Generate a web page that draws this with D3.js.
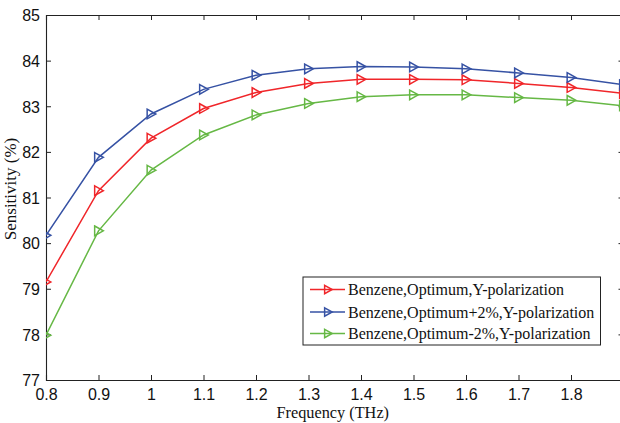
<!DOCTYPE html>
<html><head><meta charset="utf-8">
<script src="https://cdn.jsdelivr.net/npm/d3@7"></script>
<style>body{margin:0;background:#fff}svg{display:block}</style>
</head><body>
<svg id="c" width="620" height="423"></svg>
<script>
const freq = [0.8, 0.9, 1.0, 1.1, 1.2, 1.3, 1.4, 1.5, 1.6, 1.7, 1.8, 1.9];
const optimum = [79.15, 81.15, 82.30, 82.95, 83.30, 83.50, 83.59, 83.59, 83.58, 83.50, 83.41, 83.28];
const optimumPlus2 = [80.17, 81.88, 82.83, 83.37, 83.68, 83.82, 83.87, 83.86, 83.82, 83.73, 83.63, 83.47];
const optimumMinus2 = [77.98, 80.27, 81.60, 82.37, 82.81, 83.06, 83.21, 83.25, 83.25, 83.19, 83.13, 83.01];
const seriesNames = ["Benzene,Optimum,Y-polarization", "Benzene,Optimum+2%,Y-polarization", "Benzene,Optimum-2%,Y-polarization"];
const xTicks = [0.8, 0.9, 1.0, 1.1, 1.2, 1.3, 1.4, 1.5, 1.6, 1.7, 1.8];
const yTicks = [77, 78, 79, 80, 81, 82, 83, 84, 85];

const colors = ["#f0262a", "#3652a4", "#66b845"];
const series = [optimum, optimumPlus2, optimumMinus2];

const svg = d3.select("#c");
const L = 46, T = 15, R = 623.5, B = 380;
const x = d3.scaleLinear().domain([0.8, 1.9]).range([L, R]);
const y = d3.scaleLinear().domain([77, 85]).range([B, T]);

const defs = svg.append("defs");
defs.append("clipPath").attr("id", "clip").append("rect")
  .attr("x", L).attr("y", T - 6).attr("width", R - L).attr("height", B - T + 12);

const axisColor = "#222";
const tk = 5;
const gB = svg.append("g").attr("transform", `translate(0,${B})`)
  .call(d3.axisBottom(x).tickValues(xTicks).tickSize(-tk).tickPadding(9).tickFormat(d => d3.format("")(+d.toFixed(1))));
const gT = svg.append("g").attr("transform", `translate(0,${T})`)
  .call(d3.axisTop(x).tickValues(xTicks).tickSize(-tk).tickFormat(""));
const gL = svg.append("g").attr("transform", `translate(${L},0)`)
  .call(d3.axisLeft(y).tickValues(yTicks).tickSize(-tk).tickPadding(6));
const gR = svg.append("g").attr("transform", `translate(${R},0)`)
  .call(d3.axisRight(y).tickValues(yTicks).tickSize(-tk).tickFormat(""));
[gB, gT, gL, gR].forEach(g => {
  g.select(".domain").attr("stroke", axisColor).attr("stroke-width", 1.1);
  g.selectAll(".tick line").attr("stroke", axisColor).attr("stroke-width", 1);
  g.selectAll("text").attr("fill", "#111").style("font-family", "'Liberation Sans', Arial, sans-serif").style("font-size", "16px");
});
gL.selectAll(".tick text").attr("dy", "0.36em");

const line = d3.line().x((d, i) => x(freq[i])).y(d => y(d));
const tri = (cx, cy, s) => `M${cx - s * 0.8},${cy - s}L${cx + s * 1.0},${cy}L${cx - s * 0.8},${cy + s}Z`;
const plot = svg.append("g").attr("clip-path", "url(#clip)");
series.forEach((vals, k) => {
  plot.append("path").datum(vals).attr("d", line)
    .attr("fill", "none").attr("stroke", colors[k]).attr("stroke-width", 1.5);
  plot.selectAll(null).data(vals).enter().append("path")
    .attr("d", (d, i) => tri(x(freq[i]), y(d), 4.8))
    .attr("fill", "none").attr("stroke", colors[k]).attr("stroke-width", 1.5);
});

const lg = svg.append("g");
lg.append("rect").attr("x", 303).attr("y", 277).attr("width", 297.5).attr("height", 68)
  .attr("fill", "#fff").attr("stroke", axisColor).attr("stroke-width", 1);
const rowsY = [289.5, 312, 333.5];
seriesNames.forEach((name, k) => {
  const yy = rowsY[k];
  lg.append("line").attr("x1", 310).attr("x2", 345).attr("y1", yy).attr("y2", yy)
    .attr("stroke", colors[k]).attr("stroke-width", 1.5);
  lg.append("path").attr("d", tri(328, yy, 4.2)).attr("fill", "none").attr("stroke", colors[k]).attr("stroke-width", 1.5);
  lg.append("text").attr("x", 348).attr("y", yy + 5.5).text(name)
    .style("font-family", "'Liberation Serif', 'Times New Roman', serif").style("font-size", "16px").attr("fill", "#111");
});

svg.append("text").attr("x", (L + R) / 2 - 2).attr("y", 418).attr("text-anchor", "middle")
  .text("Frequency (THz)").style("font-family", "'Liberation Serif', 'Times New Roman', serif").style("font-size", "16.3px").attr("fill", "#111");
svg.append("text").attr("transform", `translate(16,189) rotate(-90)`).attr("text-anchor", "middle")
  .text("Sensitivity (%)").style("font-family", "'Liberation Serif', 'Times New Roman', serif").style("font-size", "17px").attr("fill", "#111");
</script>
</body></html>
